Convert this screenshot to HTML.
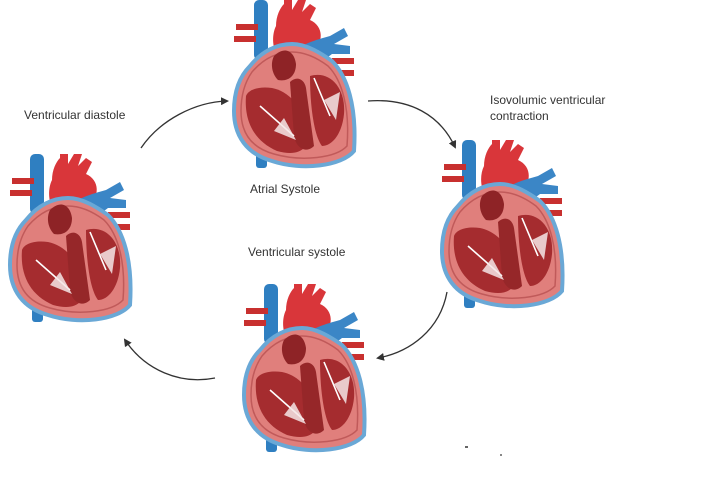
<!DOCTYPE html>
<html><head><style>
html,body{margin:0;padding:0;background:#fff;width:721px;height:503px;overflow:hidden}
svg{display:block}
text{font-family:"Liberation Sans",sans-serif;font-size:12px;fill:#333}
</style></head><body>
<svg width="721" height="503" viewBox="0 0 721 503" xmlns="http://www.w3.org/2000/svg">
<defs>
<marker id="ah" markerWidth="8" markerHeight="8" refX="6" refY="4" orient="auto" markerUnits="userSpaceOnUse">
<path d="M0,0 L8,4 L0,8 Z" fill="#333"/></marker>
<g id="heart">
  <!-- vena cava -->
  <rect x="22" y="4" width="14" height="60" rx="5" fill="#2f7fc1"/>
  <rect x="24" y="140" width="11" height="32" rx="3" fill="#2f7fc1"/>
  <!-- side vessels -->
  <rect x="4" y="28" width="22" height="6" fill="#c8302f"/>
  <rect x="2" y="40" width="22" height="6" fill="#c8302f"/>
  <rect x="100" y="62" width="22" height="6" fill="#c8302f"/>
  <rect x="104" y="74" width="18" height="6" fill="#c8302f"/>
  <!-- aorta -->
  <path d="M44,30 C44,20 48,12 52,8 L52,4 L60,4 L60,14 L66,4 L74,4 L70,16 L78,8 L84,12 L78,24 C92,30 92,48 80,54 L45,60 C40,50 40,38 44,30 Z" fill="#d9363a"/>
  <!-- pulmonary -->
  <path d="M60,58 C68,48 84,44 98,40 L112,32 L116,40 L102,48 L118,50 L118,58 L100,58 C90,66 78,72 64,70 Z" fill="#3b86c6"/>
  <!-- body -->
  <path d="M18,70 C30,55 45,48 60,48 C75,48 90,58 100,65 C115,80 125,110 122,155 C110,170 70,175 40,165 C15,158 2,140 2,115 C2,95 8,80 18,70 Z" fill="#e07f7c" stroke="#6aa8d6" stroke-width="4"/>
  <path d="M20,76 C32,62 46,56 60,56 C75,56 88,64 96,70 C110,84 118,112 115,150 C104,162 70,166 42,158 C20,152 9,138 9,115 C9,98 13,86 20,76 Z" fill="none" stroke="#c05a5a" stroke-width="1.5"/>
  <!-- chambers -->
  <path d="M14,100 C12,125 22,145 45,155 C70,162 80,150 76,130 C70,110 56,95 40,92 C26,90 16,94 14,100 Z" fill="#a52c2f"/>
  <path d="M42,60 C52,50 62,54 64,68 C64,80 56,86 46,84 C40,78 38,68 42,60 Z" fill="#8e2326"/>
  <path d="M58,86 C64,80 72,82 74,92 L82,150 C74,158 64,152 62,140 Z" fill="#962729"/>
  <path d="M78,80 C98,74 114,92 112,118 C110,138 100,150 90,150 C82,140 78,110 78,80 Z" fill="#a52c2f"/>
  <path d="M28,110 L62,140 M82,82 L98,120" stroke="#fff" stroke-width="1.6"/>
  <path d="M42,135 L64,144 L52,122 Z M92,104 L104,124 L108,96 Z" fill="#f4e6e6" opacity=".85"/>
</g>
</defs>

<use href="#heart" x="232" y="-4"/>
<use href="#heart" x="8" y="150"/>
<use href="#heart" x="440" y="136"/>
<use href="#heart" x="242" y="280"/>

<g fill="none" stroke="#333" stroke-width="1.3" marker-end="url(#ah)">
  <path d="M141,148 C160,120 195,102 227,101"/>
  <path d="M368,101 C410,98 440,115 455,147"/>
  <path d="M447,292 C440,330 410,352 378,358"/>
  <path d="M215,378 C180,385 145,370 125,340"/>
</g>

<text x="24" y="119">Ventricular diastole</text>
<text x="250" y="193">Atrial Systole</text>
<text x="490" y="104">Isovolumic ventricular</text>
<text x="490" y="120">contraction</text>
<text x="248" y="256">Ventricular systole</text>
<rect x="465" y="446" width="3" height="2" fill="#666"/>
<rect x="500" y="454" width="2" height="2" fill="#888"/>
</svg>
</body></html>
